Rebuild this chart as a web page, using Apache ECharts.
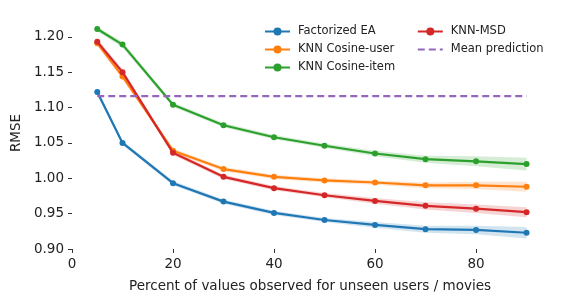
<!DOCTYPE html>
<html><head><meta charset="utf-8">
<script src="https://cdn.jsdelivr.net/npm/echarts@6/dist/echarts.min.js"></script>
<style>html,body{margin:0;padding:0;background:#fff}#c{width:568px;height:304px}</style>
</head><body><div id="c"></div>
<script>
const xs = [5, 10, 20, 30, 40, 50, 60, 70, 80, 90];
const factorizedEA = [1.122, 1.050, 0.993, 0.967, 0.951, 0.941, 0.934, 0.928, 0.927, 0.923];
const knnCosineUser = [1.191, 1.144, 1.039, 1.013, 1.002, 0.997, 0.994, 0.990, 0.990, 0.988];
const knnCosineItem = [1.211, 1.189, 1.104, 1.075, 1.058, 1.046, 1.035, 1.027, 1.024, 1.020];
const knnMSD = [1.193, 1.150, 1.036, 1.002, 0.986, 0.976, 0.968, 0.961, 0.957, 0.952];
const bandFactorizedEA = [0.004, 0.003, 0.003, 0.003, 0.003, 0.003, 0.004, 0.005, 0.006, 0.008];
const bandCosineUser = [0.004, 0.004, 0.003, 0.003, 0.003, 0.003, 0.003, 0.004, 0.005, 0.007];
const bandCosineItem = [0.003, 0.004, 0.003, 0.003, 0.003, 0.003, 0.004, 0.005, 0.007, 0.009];
const bandMSD = [0.004, 0.004, 0.003, 0.003, 0.003, 0.003, 0.004, 0.005, 0.006, 0.007];
const meanX = [5, 90];
const meanPrediction = 1.116;
const xTicks = [0, 20, 40, 60, 80];
const yTicks = [0.90, 0.95, 1.00, 1.05, 1.10, 1.15, 1.20];
const seriesNames = ['Factorized EA', 'KNN Cosine-user', 'KNN Cosine-item', 'KNN-MSD', 'Mean prediction'];

const colors = ['#1f77b4', '#ff7f0e', '#2ca02c', '#d62728', '#9467bd'];
const mains = [factorizedEA, knnCosineUser, knnCosineItem, knnMSD];
const bands = [bandFactorizedEA, bandCosineUser, bandCosineItem, bandMSD];

const series = [];
mains.forEach((vals, i) => {
  const b = bands[i];
  const lower = xs.map((x, k) => [x, vals[k] - b[k]]);
  const upper = xs.map((x, k) => [x, vals[k] + b[k]]);
  series.push({
    type: 'custom', silent: true, z: 1,
    data: [0],
    renderItem: function (params, api) {
      const pts = upper.map(p => api.coord(p)).concat(lower.slice().reverse().map(p => api.coord(p)));
      return { type: 'polygon', shape: { points: pts }, style: { fill: colors[i], opacity: 0.2 } };
    }
  });
});
mains.forEach((vals, i) => {
  series.push({
    name: seriesNames[i], type: 'line', z: 3 + i,
    symbol: 'circle', symbolSize: 6,
    itemStyle: { color: colors[i] },
    lineStyle: { color: colors[i], width: 2.2 },
    data: xs.map((x, k) => [x, vals[k]])
  });
});
series.push({
  name: seriesNames[4], type: 'line', z: 8, symbol: 'none',
  itemStyle: { color: colors[4] },
  lineStyle: { color: colors[4], width: 2.2, type: [7, 4] },
  data: meanX.map(x => [x, meanPrediction])
});

const font = 'DejaVu Sans';
const legendCommon = {
  orient: 'vertical', padding: 0, itemWidth: 25, itemHeight: 10, itemGap: 6,
  textStyle: { fontFamily: font, fontSize: 11.5, color: '#222', padding: [0, 0, 0, 3] }
};
const chart = echarts.init(document.getElementById('c'));
chart.setOption({
  animation: false,
  backgroundColor: '#fff',
  grid: { left: 72, right: 20, top: 17, bottom: 55 },
  legend: [
    Object.assign({ left: 264, top: 25.5, data: seriesNames.slice(0, 3) }, legendCommon),
    Object.assign({ left: 416.7, top: 25.5, data: [seriesNames[3], {
      name: seriesNames[4],
      itemStyle: { color: 'rgba(0,0,0,0)', borderWidth: 0 },
      lineStyle: { color: colors[4], width: 2.2, type: [7, 4] }
    }] }, legendCommon)
  ],
  xAxis: {
    type: 'value', min: 0, max: 94.25,
    name: 'Percent of values observed for unseen users / movies',
    nameLocation: 'middle', nameGap: 30,
    nameTextStyle: { fontFamily: font, fontSize: 13.5, color: '#222' },
    axisLine: { show: false }, splitLine: { show: false },
    axisTick: { show: true, length: 4, customValues: xTicks, lineStyle: { color: '#333' } },
    axisLabel: { customValues: xTicks, margin: 8, fontFamily: font, fontSize: 13.5, color: '#222' }
  },
  yAxis: {
    type: 'value', min: 0.9, max: 1.228,
    name: 'RMSE', nameLocation: 'middle', nameGap: 49,
    nameTextStyle: { fontFamily: font, fontSize: 13.5, color: '#222' },
    axisLine: { show: false }, splitLine: { show: false },
    axisTick: { show: true, length: 4, customValues: yTicks, lineStyle: { color: '#333' } },
    axisLabel: { customValues: yTicks, margin: 8, fontFamily: font, fontSize: 13.5, color: '#222',
      formatter: v => v.toFixed(2) }
  },
  series: series
});
</script></body></html>
